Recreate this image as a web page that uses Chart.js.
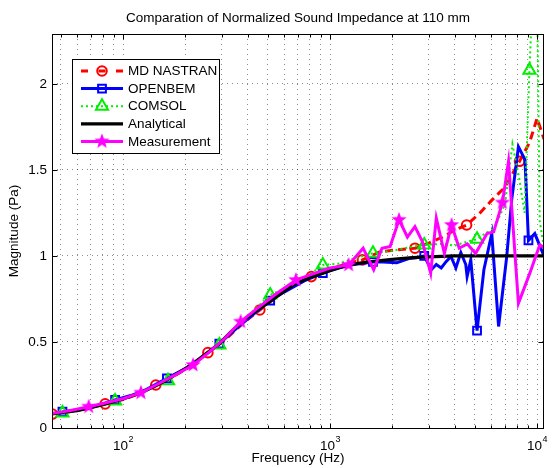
<!DOCTYPE html>
<html>
<head>
<meta charset="utf-8">
<script src="https://cdn.jsdelivr.net/npm/chart.js@4.4.1/dist/chart.umd.min.js"></script>
<style>
  html, body { margin: 0; padding: 0; background: #fff; }
  canvas { display: block; }
</style>
</head>
<body>
<canvas id="chart" width="553" height="468"></canvas>
<script>
// values (frequency in Hz, magnitude)
const nastranFreq = [45.6, 55, 65, 82, 100, 120, 144, 175, 210, 257, 310, 380, 458, 560, 680, 812, 1000, 1200, 1433, 1750, 2100, 2572, 3000, 3500, 4000, 4567, 5300, 6000, 7000, 8226, 9200, 10000, 10800];
const nastranVal = [0.081, 0.095, 0.11, 0.14, 0.165, 0.2, 0.25, 0.3, 0.355, 0.438, 0.51, 0.61, 0.686, 0.77, 0.835, 0.88, 0.92, 0.955, 0.977, 1.025, 1.035, 1.045, 1.075, 1.11, 1.15, 1.18, 1.25, 1.32, 1.40, 1.55, 1.66, 1.80, 1.68];
const nastranMarkFreq = [45.6, 82, 144, 257, 458, 812, 1433, 2572, 4567, 8226];
const nastranMarkVal = [0.081, 0.14, 0.25, 0.438, 0.686, 0.88, 0.977, 1.045, 1.18, 1.55];

const openbemFreq = [51, 60, 70, 80, 91.6, 110, 130, 163, 200, 240, 292, 350, 420, 514, 600, 750, 923, 1100, 1300, 1612, 1800, 2100, 2400, 2600, 2850, 3084, 3260, 3443, 3634, 3837, 4053, 4283, 4525, 4592, 4784, 5129, 5535, 6041, 6518, 7141, 7547, 8127, 8740, 9086, 9747, 10800];
const openbemVal = [0.095, 0.105, 0.12, 0.14, 0.163, 0.19, 0.225, 0.289, 0.345, 0.41, 0.49, 0.575, 0.655, 0.74, 0.79, 0.855, 0.90, 0.93, 0.95, 0.965, 0.965, 0.96, 0.985, 0.99, 1.0, 0.92, 0.95, 0.93, 0.967, 0.997, 0.93, 1.02, 0.95, 0.88, 0.977, 0.566, 0.92, 1.13, 0.59, 1.0, 1.33, 1.635, 1.56, 1.09, 1.13, 1.0];
const openbemMarkFreq = [51, 91.6, 163, 292, 514, 923, 1612, 2850, 5129, 9086];
const openbemMarkVal = [0.095, 0.163, 0.289, 0.49, 0.74, 0.90, 0.965, 1.0, 0.566, 1.09];

const comsolFreq = [51, 60, 70, 80, 91.6, 110, 130, 165, 200, 240, 292, 350, 420, 514, 600, 750, 923, 1100, 1300, 1612, 2000, 2400, 2850, 3500, 4000, 4500, 5129, 5600, 6200, 7000, 7600, 8200, 8700, 9186, 9900, 10300, 10800];
const comsolVal = [0.087, 0.10, 0.12, 0.14, 0.157, 0.19, 0.225, 0.275, 0.345, 0.415, 0.483, 0.585, 0.675, 0.773, 0.81, 0.87, 0.948, 0.955, 0.985, 1.016, 1.03, 1.05, 1.064, 1.07, 1.06, 1.08, 1.097, 1.13, 1.16, 1.3, 1.65, 1.45, 1.25, 2.08, 3.0, 1.2, 1.05];
const comsolMarkFreq = [51, 91.6, 165, 292, 514, 923, 1612, 2850, 5129, 9186];
const comsolMarkVal = [0.087, 0.157, 0.275, 0.483, 0.773, 0.948, 1.016, 1.064, 1.097, 2.08];

const analyticFreq = [45.4, 51, 60, 68, 80, 91.6, 100, 122, 144, 163, 200, 218, 257, 292, 330, 370, 410, 458, 514, 600, 684, 800, 923, 1000, 1200, 1500, 2000, 2500, 3000, 4000, 6000, 10800];
const analyticVal = [0.083, 0.09, 0.10, 0.115, 0.135, 0.155, 0.168, 0.205, 0.245, 0.28, 0.345, 0.375, 0.44, 0.49, 0.555, 0.61, 0.655, 0.695, 0.735, 0.795, 0.84, 0.875, 0.90, 0.915, 0.945, 0.965, 0.98, 0.99, 0.995, 1.0, 1.0, 1.0];

const measFreq = [45.6, 55, 68.3, 85, 100, 122, 150, 180, 218, 260, 310, 370, 450, 550, 684, 800, 1000, 1229, 1445, 1625, 1782, 1951, 2154, 2364, 2570, 2789, 3062, 3260, 3566, 3864, 4207, 4603, 5047, 5735, 6170, 6800, 7278, 8127, 9226, 10300, 10800];
const measVal = [0.085, 0.10, 0.124, 0.15, 0.17, 0.205, 0.26, 0.31, 0.366, 0.44, 0.52, 0.618, 0.70, 0.78, 0.86, 0.89, 0.93, 0.948, 1.045, 0.92, 1.045, 1.055, 1.21, 1.11, 1.17, 1.085, 0.90, 1.22, 1.015, 1.18, 1.045, 1.07, 1.015, 1.13, 1.14, 1.31, 1.55, 0.725, 0.90, 1.064, 1.05];
const measMarkFreq = [68.3, 122, 218, 370, 684, 1229, 2154, 3864, 6800];
const measMarkVal = [0.124, 0.205, 0.366, 0.618, 0.86, 0.948, 1.21, 1.18, 1.31];

const seriesNames = ["MD NASTRAN", "OPENBEM", "COMSOL", "Analytical", "Measurement"];
const titleText = "Comparation of Normalized Sound Impedance at 110 mm";
const xGridValues = [50, 60, 70, 80, 90, 100, 200, 300, 400, 500, 600, 700, 800, 900, 1000, 2000, 3000, 4000, 5000, 6000, 7000, 8000, 9000, 10000];
const xTickExponents = [2, 3, 4];
const yTickValues = [0, 0.5, 1, 1.5, 2];

const FONT = "'Liberation Sans', Arial, Helvetica, sans-serif";
const FS = 13.5;
const GRID = "rgba(0,0,0,0.45)";

function pts(f, v) {
  return f.map((x, i) => ({ x, y: v[i] }));
}

function makeStar(r, color) {
  const c = document.createElement("canvas");
  const s = Math.ceil(r * 2 + 2);
  c.width = s;
  c.height = s;
  const g = c.getContext("2d");
  g.translate(s / 2, s / 2);
  g.beginPath();
  for (let i = 0; i < 10; i++) {
    const rad = i % 2 ? r * 0.42 : r;
    const a = -Math.PI / 2 + (i * Math.PI) / 5;
    g.lineTo(rad * Math.cos(a), rad * Math.sin(a));
  }
  g.closePath();
  g.fillStyle = color;
  g.fill();
  return c;
}

const starImg = makeStar(8, "#ff00ff");

const styles = [
  { color: "#ff0000", width: 3, dash: [8, 5], point: "circle", radius: 4.8 },
  { color: "#0000ff", width: 3, dash: [], point: "rect", radius: 5.5 },
  { color: "#00ee00", width: 2, dash: [2, 3], point: "triangle", radius: 7 },
  { color: "#000000", width: 3.2, dash: [], point: null, radius: 0 },
  { color: "#ff00ff", width: 3, dash: [], point: starImg, radius: 5 },
];

function lineSet(i, data, order) {
  const s = styles[i];
  return {
    label: seriesNames[i],
    data,
    borderColor: s.color,
    borderWidth: s.width,
    borderDash: s.dash,
    pointRadius: 0,
    fill: false,
    tension: 0,
    order,
  };
}

function markSet(i, data, order) {
  const s = styles[i];
  return {
    label: seriesNames[i] + " markers",
    data,
    showLine: false,
    pointStyle: s.point,
    pointRadius: s.radius,
    pointBorderWidth: 2,
    pointBorderColor: s.color,
    pointBackgroundColor: "rgba(0,0,0,0)",
    order,
  };
}

const isDecade = (v) => Math.abs(Math.log10(v) - Math.round(Math.log10(v))) < 1e-9;

const matlabFrame = {
  id: "matlabFrame",
  afterDatasetsDraw(chart) {
    const { ctx, chartArea: a, scales } = chart;
    const x = scales.x;
    const y = scales.y;
    const L = Math.round(a.left) + 0.5;
    const R = Math.round(a.right) - 0.5;
    const T = Math.round(a.top) + 0.5;
    const B = Math.round(a.bottom) + 0.5;
    ctx.save();
    ctx.strokeStyle = "#000";
    ctx.lineWidth = 1;
    ctx.beginPath();
    x.ticks.forEach((t) => {
      const px = Math.round(x.getPixelForValue(t.value)) + 0.5;
      const len = isDecade(t.value) ? 5 : 3;
      ctx.moveTo(px, B);
      ctx.lineTo(px, B - len);
      ctx.moveTo(px, T);
      ctx.lineTo(px, T + len);
    });
    y.ticks.forEach((t) => {
      const py = Math.round(y.getPixelForValue(t.value)) + 0.5;
      ctx.moveTo(L, py);
      ctx.lineTo(L + 5, py);
      ctx.moveTo(R, py);
      ctx.lineTo(R - 5, py);
    });
    ctx.stroke();
    ctx.strokeRect(L, T, R - L, B - T);

    // title, centred over the plot box
    ctx.fillStyle = "#000";
    ctx.font = FS + "px " + FONT;
    ctx.textAlign = "center";
    ctx.textBaseline = "middle";
    ctx.fillText(titleText, (a.left + a.right) / 2, 18);

    // x tick labels as 10^n
    ctx.textBaseline = "alphabetic";
    ctx.textAlign = "left";
    xTickExponents.forEach((e) => {
      const px = x.getPixelForValue(Math.pow(10, e));
      ctx.font = FS + "px " + FONT;
      const wBase = ctx.measureText("10").width;
      ctx.font = "9px " + FONT;
      const wExp = ctx.measureText(String(e)).width;
      const start = px - (wBase + wExp) / 2;
      ctx.font = FS + "px " + FONT;
      ctx.fillText("10", start, 450);
      ctx.font = "9px " + FONT;
      ctx.fillText(String(e), start + wBase + 0.5, 442);
    });

    // legend
    const box = { l: 72, t: 59, r: 219, b: 153 };
    ctx.fillStyle = "#fff";
    ctx.fillRect(box.l, box.t, box.r - box.l, box.b - box.t);
    ctx.strokeStyle = "#000";
    ctx.lineWidth = 1;
    ctx.strokeRect(box.l + 0.5, box.t + 0.5, box.r - box.l, box.b - box.t);
    seriesNames.forEach((name, i) => {
      const s = styles[i];
      const ry = 71 + i * 17.6;
      ctx.save();
      ctx.strokeStyle = s.color;
      ctx.lineWidth = s.width;
      ctx.setLineDash(i === 0 ? [7, 10.5] : s.dash);
      ctx.beginPath();
      ctx.moveTo(81, ry);
      ctx.lineTo(123, ry);
      ctx.stroke();
      ctx.setLineDash([]);
      if (s.point) {
        ctx.fillStyle = "rgba(0,0,0,0)";
        ctx.lineWidth = 2;
        Chart.helpers.drawPoint(ctx, { pointStyle: s.point, radius: s.radius, rotation: 0, borderWidth: 2 }, 102, ry);
      }
      ctx.restore();
      ctx.fillStyle = "#000";
      ctx.font = FS + "px " + FONT;
      ctx.textBaseline = "middle";
      ctx.textAlign = "left";
      ctx.fillText(name, 128, ry + 0.5);
    });
    ctx.restore();
  },
};

const datasets = [
  markSet(4, pts(measMarkFreq, measMarkVal), 0),
  lineSet(4, pts(measFreq, measVal), 1),
  lineSet(3, pts(analyticFreq, analyticVal), 2),
  markSet(2, pts(comsolMarkFreq, comsolMarkVal), 3),
  lineSet(2, pts(comsolFreq, comsolVal), 4),
  markSet(1, pts(openbemMarkFreq, openbemMarkVal), 5),
  lineSet(1, pts(openbemFreq, openbemVal), 6),
  markSet(0, pts(nastranMarkFreq, nastranMarkVal), 7),
  lineSet(0, pts(nastranFreq, nastranVal), 8),
];

new Chart(document.getElementById("chart"), {
  type: "line",
  data: { datasets },
  plugins: [matlabFrame],
  options: {
    responsive: false,
    animation: false,
    events: [],
    layout: { padding: { left: 0, right: 2, top: 34, bottom: 0 } },
    plugins: {
      legend: { display: false },
      tooltip: { enabled: false },
      title: { display: false },
    },
    scales: {
      x: {
        type: "logarithmic",
        min: 45.4,
        max: 10800,
        afterBuildTicks: (s) => {
          s.ticks = xGridValues.map((v) => ({ value: v }));
        },
        afterFit: (s) => {
          s.height = 40;
        },
        ticks: { display: false },
        grid: { color: GRID, lineWidth: 1, drawTicks: false },
        border: { display: false, dash: [1, 4] },
        title: {
          display: true,
          text: "Frequency (Hz)",
          color: "#000",
          font: { family: FONT, size: FS },
          padding: { top: 0, bottom: 2 },
        },
      },
      y: {
        min: 0,
        max: 2.29,
        afterBuildTicks: (s) => {
          s.ticks = yTickValues.map((v) => ({ value: v }));
        },
        afterFit: (s) => {
          s.width = 52;
        },
        ticks: {
          color: "#000",
          font: { family: FONT, size: FS },
          padding: 5,
          callback: (v) => String(v),
        },
        grid: { color: GRID, lineWidth: 1, drawTicks: false },
        border: { display: false, dash: [1, 4] },
        title: {
          display: true,
          text: "Magnitude (Pa)",
          color: "#000",
          font: { family: FONT, size: FS },
          padding: { top: 6, bottom: 0 },
        },
      },
    },
  },
});
</script>
</body>
</html>
